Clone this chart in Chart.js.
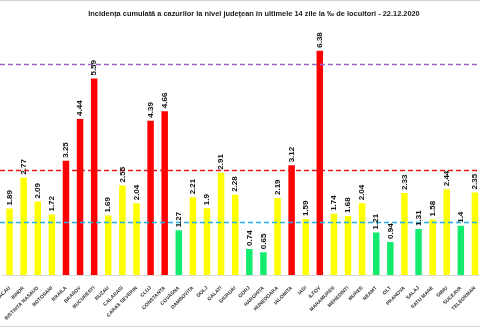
<!DOCTYPE html>
<html>
<head>
<meta charset="utf-8">
<script src="https://cdn.jsdelivr.net/npm/chart.js@4/dist/chart.umd.min.js"></script>
<style>
  html, body { margin: 0; padding: 0; background: #fff; overflow: hidden; }
  #wrap { position: relative; width: 490px; height: 328px; }
</style>
</head>
<body>
<div id="wrap"><canvas id="incidenceChart" width="490" height="328"></canvas></div>
<script>
const counties = ['BACAU', 'BIHOR', 'BISTRITA NASAUD', 'BOTOSANI', 'BRAILA', 'BRASOV', 'BUCURESTI',
    'BUZAU', 'CALARASI', 'CARAS SEVERIN', 'CLUJ', 'CONSTANTA', 'COVASNA', 'DAMBOVITA', 'DOLJ',
    'GALATI', 'GIURGIU', 'GORJ', 'HARGHITA', 'HUNEDOARA', 'IALOMITA', 'IASI', 'ILFOV',
    'MARAMURES', 'MEHEDINTI', 'MURES', 'NEAMT', 'OLT', 'PRAHOVA', 'SALAJ', 'SATU MARE',
    'SIBIU', 'SUCEAVA', 'TELEORMAN'];
const incidence = [1.89, 2.77, 2.09, 1.72, 3.25, 4.44, 5.59,
    1.69, 2.55, 2.04, 4.39, 4.66, 1.27, 2.21, 1.9,
    2.91, 2.28, 0.74, 0.65, 2.19, 3.12, 1.59, 6.38,
    1.74, 1.68, 2.04, 1.21, 0.94, 2.33, 1.31, 1.58,
    2.44, 1.4, 2.35];
const thresholds = [1.5, 3, 6];
const thresholdColors = ['#1fb0ee', '#e8141e', '#9a63c8'];
const chartTitle = 'Incidența cumulată a cazurilor la nivel județean în ultimele 14 zile la ‰ de locuitori - 22.12.2020';

function barColor(v) {
    if (v >= 3) return '#ff0000';
    if (v >= 1.5) return '#ffff00';
    return '#12eb6e';
}

// title, threshold lines, value labels and frame
const overlay = {
    id: 'overlay',
    afterDatasetsDraw(chart) {
        const {ctx, scales: {y}, width, height} = chart;
        ctx.save();
        ctx.lineWidth = 1.5;
        ctx.setLineDash([5, 3]);
        thresholds.forEach((t, i) => {
            const py = Math.round(y.getPixelForValue(t)) + 0.5;
            ctx.strokeStyle = thresholdColors[i];
            ctx.beginPath();
            ctx.moveTo(0, py);
            ctx.lineTo(width, py);
            ctx.stroke();
        });
        ctx.setLineDash([]);

        ctx.fillStyle = '#111';
        ctx.font = 'bold 8px "Liberation Sans", Arial, sans-serif';
        ctx.textAlign = 'left';
        ctx.textBaseline = 'middle';
        chart.getDatasetMeta(0).data.forEach((bar, i) => {
            ctx.save();
            ctx.translate(bar.x, bar.y - 3);
            ctx.rotate(-Math.PI / 2);
            ctx.fillText(String(incidence[i]), 0, 0);
            ctx.restore();
        });

        ctx.font = 'bold 7.4px "Liberation Sans", Arial, sans-serif';
        ctx.textAlign = 'center';
        ctx.fillStyle = '#1a1a1a';
        ctx.fillText(chartTitle, 254, 14);

        ctx.strokeStyle = '#d4d4d4';
        ctx.lineWidth = 1;
        ctx.beginPath();
        ctx.moveTo(0, 0.5);
        ctx.lineTo(width, 0.5);
        ctx.moveTo(0, height - 1.5);
        ctx.lineTo(width, height - 1.5);
        ctx.stroke();
        ctx.restore();
    }
};

const ctx = document.getElementById('incidenceChart').getContext('2d');
new Chart(ctx, {
    type: 'bar',
    data: {
        labels: counties,
        datasets: [{
            data: incidence,
            backgroundColor: incidence.map(barColor),
            borderWidth: 0,
            categoryPercentage: 1,
            barPercentage: 0.46
        }]
    },
    options: {
        responsive: false,
        animation: false,
        layout: {
            padding: { top: 29, left: 2.5, right: 8, bottom: 0 }
        },
        scales: {
            x: {
                grid: { display: false },
                border: { display: true, color: '#d9d9d9' },
                ticks: {
                    autoSkip: false,
                    minRotation: 45,
                    maxRotation: 45,
                    padding: 2,
                    color: '#333',
                    font: { size: 5, weight: 'bold', family: '"Liberation Sans", Arial, sans-serif' }
                },
                afterFit(scale) {
                    scale.height = 53;
                    scale.paddingLeft = 0;
                    scale.paddingRight = 0;
                }
            },
            y: {
                display: false,
                min: 0,
                max: 7
            }
        },
        plugins: {
            legend: { display: false },
            title: { display: false },
            tooltip: { enabled: false }
        }
    },
    plugins: [overlay]
});
</script>
</body>
</html>
